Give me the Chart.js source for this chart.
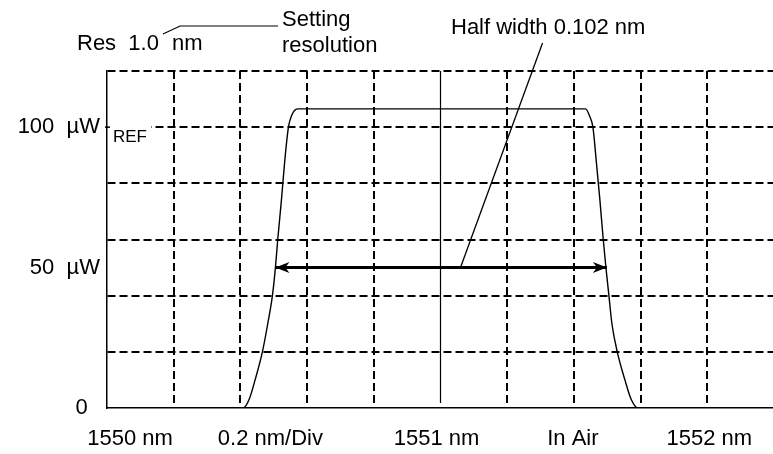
<!DOCTYPE html>
<html>
<head>
<meta charset="utf-8">
<script src="https://cdn.jsdelivr.net/npm/chart.js@4/dist/chart.umd.min.js"></script>
<style>
  html, body { margin: 0; padding: 0; background: #fff; overflow: hidden; }
  #wrap { position: relative; width: 790px; height: 454px; }
</style>
</head>
<body>
<div id="wrap"><canvas id="spectrum"></canvas></div>
<script>
// ============================================================
// Spectrum of a 1.0 nm resolution setting — OSA screen sketch
// ============================================================

/* ── Data ───────────────────────────────────────────────────*/
const GRID_NM = [1550, 1550.2, 1550.4, 1550.6, 1550.8, 1551, 1551.2, 1551.4, 1551.6, 1551.8, 1552];
const GRID_UW = [0, 20, 40, 60, 80, 100, 120];

const X_LABEL_NM = [1550.069, 1550.49, 1550.988, 1551.397, 1551.806];
const X_LABELS = ["1550 nm", "0.2 nm/Div", "1551 nm", "In Air", "1552 nm"];
const Y_LABEL_UW = [0, 50, 100];
const Y_LABELS = ["0  ", "50  µW", "100  µW"];

// measured trace (wavelength nm, power µW)
const SPEC_NM = [1550, 1550.408, 1550.426, 1550.444, 1550.466, 1550.482, 1550.496, 1550.505,
  1550.512, 1550.523, 1550.533, 1550.544, 1550.553, 1550.571,
  1551.435, 1551.447, 1551.457, 1551.467, 1551.478, 1551.488, 1551.496, 1551.505, 1551.514,
  1551.530, 1551.553, 1551.572, 1551.592, 1552];
const SPEC_UW = [0, 0, 3, 10, 20, 30, 40, 50, 60, 74, 88, 100, 104, 106.5,
  106.5, 104, 100, 88, 74, 60, 50, 40, 30, 20, 10, 3, 0, 0];

const HALF_NM = [1550.505, 1551.499];
const HALF_UW = [50, 50];
const CENTER_NM = [1551, 1551];
const CENTER_UW = [1.8, 120];
const LEADER_NM = [1551.06, 1551.306];
const LEADER_UW = [50, 130];
const REF_UW = 100;

const FONT = "'Liberation Sans', Arial, sans-serif";

const pts = (xs, ys) => xs.map((x, i) => ({ x, y: ys[i] }));

/* ── Annotations ────────────────────────────────────────────*/
const notes = {
  id: "notes",
  afterDraw(chart) {
    const { ctx, scales: { x, y } } = chart;
    ctx.save();
    ctx.fillStyle = "#000";
    ctx.strokeStyle = "#000";
    ctx.textBaseline = "alphabetic";

    // REF marker on the left axis
    const ry = y.getPixelForValue(REF_UW);
    ctx.fillStyle = "#fff";
    ctx.fillRect(x.left + 1, ry - 3, 43, 6);
    ctx.fillStyle = "#000";
    ctx.lineWidth = 1.5;
    ctx.beginPath();
    ctx.moveTo(x.left - 2, ry);
    ctx.lineTo(x.left + 3, ry);
    ctx.stroke();
    ctx.font = `17px ${FONT}`;
    ctx.fillText("REF", x.left + 6, ry + 15);

    // arrow heads on the half width bar
    const bar = chart.getDatasetMeta(1).data;
    const head = (p, dir) => {
      ctx.beginPath();
      ctx.moveTo(p.x, p.y);
      ctx.lineTo(p.x + dir * 14, p.y - 5.5);
      ctx.lineTo(p.x + dir * 10, p.y);
      ctx.lineTo(p.x + dir * 14, p.y + 5.5);
      ctx.closePath();
      ctx.fill();
    };
    head(bar[0], 1);
    head(bar[1], -1);

    // header texts
    ctx.font = `22px ${FONT}`;
    ctx.fillText("Res  1.0", 77, 50);
    ctx.fillText("nm", 172, 50);
    ctx.fillText("Setting", 282, 26);
    ctx.fillText("resolution", 282, 52);
    ctx.fillText("Half width 0.102 nm", 451, 34);

    ctx.lineWidth = 1.2;
    ctx.beginPath();
    ctx.moveTo(163, 34);
    ctx.lineTo(180, 26);
    ctx.lineTo(278, 26);
    ctx.stroke();
    ctx.restore();
  }
};

/* ── Chart ──────────────────────────────────────────────────*/
new Chart(document.getElementById("spectrum"), {
  type: "line",
  data: {
    datasets: [
      { data: pts(SPEC_NM, SPEC_UW), borderColor: "#000", borderWidth: 1.4, cubicInterpolationMode: "monotone" },
      { data: pts(HALF_NM, HALF_UW), borderColor: "#000", borderWidth: 3 },
      { data: pts(CENTER_NM, CENTER_UW), borderColor: "#000", borderWidth: 1.2 },
      { data: pts(LEADER_NM, LEADER_UW), borderColor: "#000", borderWidth: 1.3, clip: false }
    ]
  },
  options: {
    responsive: true, maintainAspectRatio: false, animation: false,
    layout: { padding: { top: 71, right: 16, bottom: 0, left: 0 } },
    elements: { point: { radius: 0 } },
    plugins: { legend: { display: false }, tooltip: { enabled: false } },
    scales: {
      x: {
        type: "linear", min: 1550, max: 1552,
        afterBuildTicks: s => { s.ticks = GRID_NM.map(v => ({ value: v })); },
        afterFit: s => { s.height = 0; },
        ticks: { display: false },
        grid: {
          drawTicks: false, lineWidth: 2,
          color: c => (c.tick && (c.tick.value === 1550 || c.tick.value === 1551)) ? "rgba(0,0,0,0)" : "#000"
        },
        border: { display: true, color: "#000", width: 1.5, dash: [8, 4] }
      },
      xl: {
        type: "linear", position: "bottom", min: 1550, max: 1552,
        afterBuildTicks: s => { s.ticks = X_LABEL_NM.map(v => ({ value: v })); },
        afterFit: s => { s.height = 46; },
        ticks: {
          color: "#000", padding: 18, maxRotation: 0, autoSkip: false,
          font: { size: 22, family: FONT },
          callback: v => X_LABELS[X_LABEL_NM.indexOf(v)]
        },
        grid: { display: false, drawTicks: false },
        border: { display: false }
      },
      y: {
        type: "linear", min: 0, max: 120, weight: 0,
        afterBuildTicks: s => { s.ticks = GRID_UW.map(v => ({ value: v })); },
        afterFit: s => { s.width = 0; },
        ticks: { display: false },
        grid: {
          drawTicks: false, lineWidth: 2,
          color: c => (c.tick && c.tick.value === 0) ? "rgba(0,0,0,0)" : "#000"
        },
        border: { display: true, color: "#000", width: 1.5, dash: [8, 4] }
      },
      yl: {
        type: "linear", position: "left", min: 0, max: 120, weight: 1,
        afterBuildTicks: s => { s.ticks = Y_LABEL_UW.map(v => ({ value: v })); },
        afterFit: s => { s.width = 107; },
        ticks: {
          color: "#000", padding: 7, autoSkip: false,
          font: { size: 22, family: FONT },
          callback: v => Y_LABELS[Y_LABEL_UW.indexOf(v)]
        },
        grid: { display: false, drawTicks: false },
        border: { display: false }
      }
    }
  },
  plugins: [notes]
});
</script>
</body>
</html>
